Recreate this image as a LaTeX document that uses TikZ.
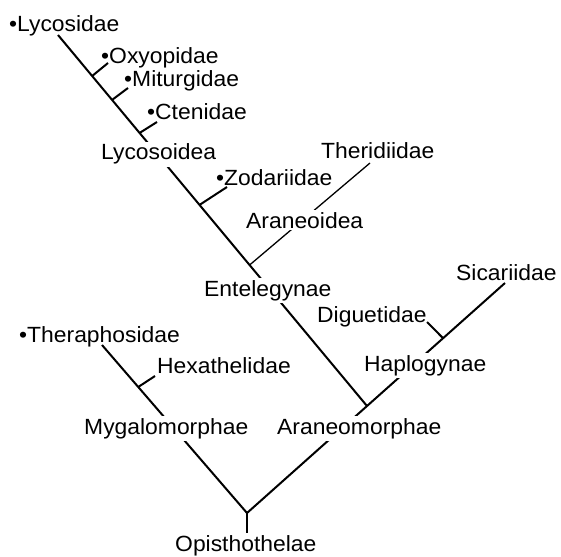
\documentclass[tikz,border=0pt]{standalone}
\usepackage{fontspec}
\setmainfont{Liberation Sans}[FakeStretch=1.04]
\usetikzlibrary{calc}
\begin{document}
\begin{tikzpicture}[x=1pt,y=-1pt,
  branch/.style={line width=2pt},
  thinbranch/.style={line width=1.3pt},
  taxon/.style={anchor=base west, inner sep=2pt, font=\fontsize{22}{26}\selectfont},
  clade/.style={taxon, fill=white}]
\useasboundingbox (0,0) rectangle (561,556);
% key points
\coordinate (lycend) at (58,35);
\coordinate (aranode) at (367,406);
\coordinate (root) at (247,513);
\coordinate (rootbot) at (247,535);
\coordinate (sicend) at (505,283);
\coordinate (therend) at (102,345);
\coordinate (oxyb) at ($(lycend)!0.1105!(aranode)$);
\coordinate (mitb) at ($(lycend)!0.175!(aranode)$);
\coordinate (cteb) at ($(lycend)!0.264!(aranode)$);
\coordinate (zodb) at ($(lycend)!0.458!(aranode)$);
\coordinate (arb) at ($(lycend)!0.620!(aranode)$);
\coordinate (hexb) at ($(therend)!0.25!(root)$);
\coordinate (digb) at ($(root)!0.76!(sicend)$);
\coordinate (oxye) at (108,63);
\coordinate (mite) at (128,88);
\coordinate (ctee) at (157,122);
\coordinate (zode) at (227,187);
\coordinate (therie) at (370,163);
\coordinate (hexe) at (155,376);
\coordinate (dige) at (427,322);
% branches
\draw[branch] (lycend) -- (aranode);
\draw[branch] (oxyb) -- (oxye);
\draw[branch] (mitb) -- (mite);
\draw[branch] (cteb) -- (ctee);
\draw[branch] (zodb) -- (zode);
\draw[thinbranch] (arb) -- (therie);
\draw[branch] (root) -- (sicend);
\draw[branch] (digb) -- (dige);
\draw[branch] (therend) -- (root);
\draw[branch] (hexb) -- (hexe);
\draw[branch] (root) -- (rootbot);
% leaf labels
\node[taxon] (lycosidae) at (7,32) {•Lycosidae};
\node[taxon] (oxyopidae) at (99,64) {•Oxyopidae};
\node[taxon] (miturgidae) at (122,87) {•Miturgidae};
\node[taxon] (ctenidae) at (145,120) {•Ctenidae};
\node[taxon] (zodariidae) at (214,185) {•Zodariidae};
\node[taxon] (theridiidae) at (319,158) {Theridiidae};
\node[taxon] (sicariidae) at (454,280) {Sicariidae};
\node[taxon] (diguetidae) at (315,322) {Diguetidae};
\node[taxon] (theraphosidae) at (17,342) {•Theraphosidae};
\node[taxon] (hexathelidae) at (155,373) {Hexathelidae};
% clade labels
\node[clade] (lycosoidea) at (99,160) {Lycosoidea};
\node[clade] (araneoidea) at (244,228) {Araneoidea};
\node[clade] (entelegynae) at (202,296) {Entelegynae};
\node[clade] (haplogynae) at (362,371) {Haplogynae};
\node[clade] (araneomorphae) at (275,434) {Araneomorphae};
\node[clade] (mygalomorphae) at (82,434) {Mygalomorphae};
\node[clade] (opisthothelae) at (173,551) {Opisthothelae};
\end{tikzpicture}
\end{document}
